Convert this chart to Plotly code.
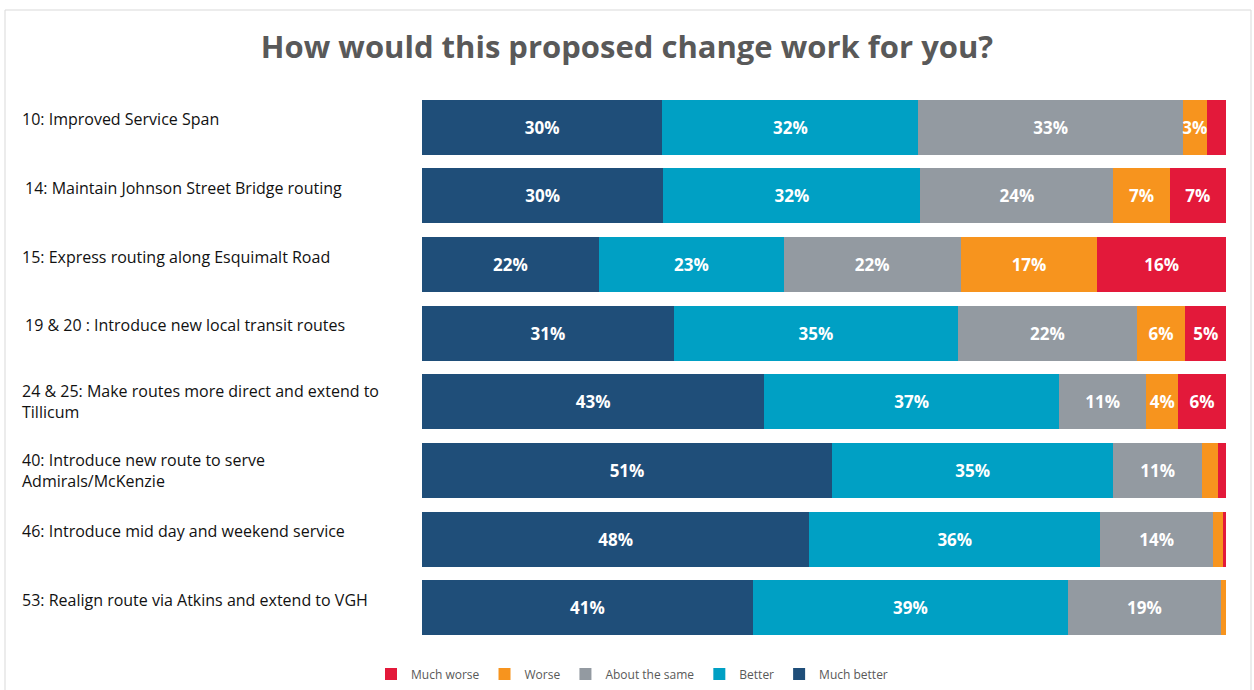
import plotly.graph_objects as go

categories = [
    "10: Improved Service Span",
    " 14: Maintain Johnson Street Bridge routing",
    "15: Express routing along Esquimalt Road",
    " 19 & 20 : Introduce new local transit routes",
    "24 & 25: Make routes more direct and extend to<br>Tillicum",
    "40: Introduce new route to serve<br>Admirals/McKenzie",
    "46: Introduce mid day and weekend service",
    "53: Realign route via Atkins and extend to VGH",
]
much_better = [30, 30, 22, 31, 43, 51, 48, 41]
better = [32, 32, 23, 35, 37, 35, 36, 39]
about_same = [33, 24, 22, 22, 11, 11, 14, 19]
worse = [3, 7, 17, 6, 4, 2, 1.2, 0.6]
much_worse = [2.4, 7, 16, 5, 6, 1, 0.4, 0]

series = [
    ("Much better", much_better, "#1F4E79"),
    ("Better", better, "#00A0C4"),
    ("About the same", about_same, "#939AA1"),
    ("Worse", worse, "#F7941E"),
    ("Much worse", much_worse, "#E3193A"),
]

fig = go.Figure()
for name, vals, color in series:
    fig.add_trace(go.Bar(
        y=categories, x=vals, name=name, orientation="h",
        marker=dict(color=color, line=dict(width=0)),
        text=[f"{round(v)}%" if v >= 3 else "" for v in vals],
        textposition="inside", insidetextanchor="middle",
        constraintext="none", textangle=0,
        textfont=dict(color="white", size=17, family="Open Sans", weight="bold"),
        hoverinfo="skip",
    ))

L, R, T, B = 422, 28, 93, 48
W, H = 1254, 690
pw = W - L - R
ph = H - T - B

def px_x(p):
    return (p - L) / pw

def px_y(p):
    return (H - B - p) / ph

annotations = []
for c in categories:
    two = "<br>" in c
    indent = 3 if c.startswith(" ") else 0
    annotations.append(dict(
        x=px_x(20 + indent), xref="paper", y=c, yref="y",
        text=c.strip(), showarrow=False, xanchor="left", yanchor="middle",
        align="left", yshift=0 if two else 8,
        font=dict(family="Open Sans", size=16, color="#111111"),
    ))

fig.update_layout(
    width=W, height=H,
    margin=dict(l=L, r=R, t=T, b=B, autoexpand=False),
    barmode="stack", barnorm="percent", bargap=0.2,
    plot_bgcolor="white", paper_bgcolor="white",
    title=dict(text="<b>How would this proposed change work for you?</b>",
               x=0.5, xanchor="center", y=1 - 47 / H, yanchor="middle",
               font=dict(family="Open Sans", size=31, color="#595959")),
    xaxis=dict(visible=False, range=[0, 100], fixedrange=True),
    yaxis=dict(autorange="reversed", showticklabels=False, showgrid=False,
               zeroline=False, fixedrange=True),
    showlegend=True,
    legend=dict(orientation="h", traceorder="reversed",
                x=px_x(632), xanchor="center", y=px_y(674), yanchor="middle",
                font=dict(family="Open Sans", size=12, color="#595959"),
                itemwidth=30, itemclick=False),
    uniformtext=dict(minsize=17, mode="show"),
    annotations=annotations,
    shapes=[dict(type="rect", xref="paper", yref="paper",
                 x0=px_x(5), x1=px_x(1251), y0=px_y(700), y1=px_y(10),
                 line=dict(color="#D9D9D9", width=1), layer="below")],
)

fig.write_html("out.html", config={"displayModeBar": False},
               post_script="document.body.style.margin='0';")
